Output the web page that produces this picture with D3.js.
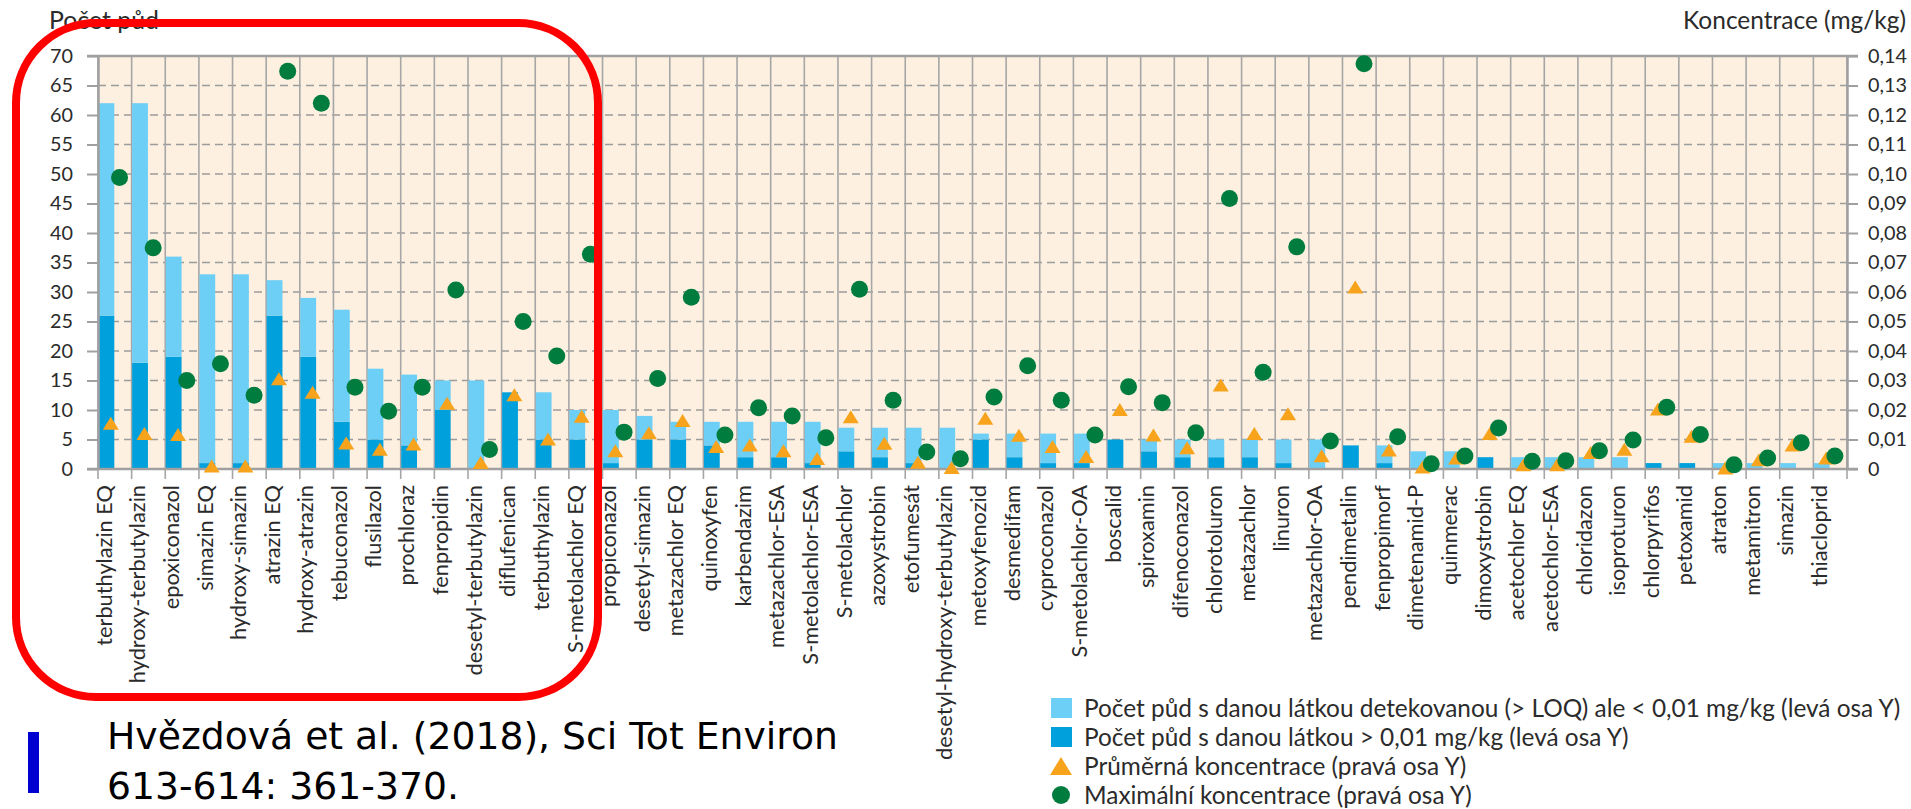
<!DOCTYPE html>
<html>
<head>
<meta charset="utf-8">
<script src="https://cdn.jsdelivr.net/npm/d3@7"></script>
<style>
  body { margin: 0; background: #fff; }
  svg { display: block; }
</style>
</head>
<body>
<div id="chart"></div>
<script>
// látky (osa X)
var latky = ['terbuthylazin EQ', 'hydroxy-terbutylazin', 'epoxiconazol', 'simazin EQ', 'hydroxy-simazin',
    'atrazin EQ', 'hydroxy-atrazin', 'tebuconazol', 'flusilazol', 'prochloraz', 'fenpropidin',
    'desetyl-terbutylazin', 'diflufenican', 'terbuthylazin', 'S-metolachlor EQ', 'propiconazol',
    'desetyl-simazin', 'metazachlor EQ', 'quinoxyfen', 'karbendazim', 'metazachlor-ESA',
    'S-metolachlor-ESA', 'S-metolachlor', 'azoxystrobin', 'etofumesát', 'desetyl-hydroxy-terbutylazin',
    'metoxyfenozid', 'desmedifam', 'cyproconazol', 'S-metolachlor-OA', 'boscalid', 'spiroxamin',
    'difenoconazol', 'chlorotoluron', 'metazachlor', 'linuron', 'metazachlor-OA', 'pendimetalin',
    'fenpropimorf', 'dimetenamid-P', 'quinmerac', 'dimoxystrobin', 'acetochlor EQ', 'acetochlor-ESA',
    'chloridazon', 'isoproturon', 'chlorpyrifos', 'petoxamid', 'atraton', 'metamitron', 'simazin',
    'thiacloprid']

// počet půd > LOQ ale < 0,01 mg/kg (světle modrá)
var pocetPod001 = [36, 44, 17, 32, 32, 6, 10, 19, 12, 12, 5, 15, 0, 8, 5, 9, 4, 3, 4, 6, 6, 7, 4, 5, 6, 7,
    1, 4, 5, 5, 0, 2, 3, 3, 3, 4, 5, 0, 3, 3, 3, 0, 2, 2, 2, 2, 0, 0, 1, 1, 1, 1]

// počet půd > 0,01 mg/kg (tmavě modrá)
var pocetNad001 = [26, 18, 19, 1, 1, 26, 19, 8, 5, 4, 10, 0, 13, 5, 5, 1, 5, 5, 4, 2, 2, 1, 3, 2, 1, 0,
    5, 2, 1, 1, 5, 3, 2, 2, 2, 1, 0, 4, 1, 0, 0, 2, 0, 0, 0, 0, 1, 1, 0, 0, 0, 0]

// průměrná koncentrace mg/kg (trojúhelníky)
var prumernaKonc = [0.0155, 0.012, 0.0117, 0.001, 0.001, 0.0306, 0.026, 0.0088, 0.0067, 0.0085, 0.0223,
    0.0022, 0.0252, 0.0102, 0.0179, 0.0062, 0.0123, 0.0164, 0.0076, 0.0081, 0.0062, 0.0036, 0.0177,
    0.0087, 0.0023, 0.0005, 0.0172, 0.0114, 0.0076, 0.0042, 0.0202, 0.0115, 0.0072, 0.0285, 0.012,
    0.0187, 0.0045, 0.0617, 0.0064, 0.0007, 0.0037, 0.012, 0.0014, 0.0014, 0.0056, 0.0067, 0.0203,
    0.0111, 0.0003, 0.0031, 0.0081, 0.0037]

// maximální koncentrace mg/kg (kolečka)
var maxKonc = [0.0988, 0.075, 0.030, 0.0357, 0.025, 0.1348, 0.124, 0.0277, 0.0196, 0.0277, 0.0607,
    0.0066, 0.050, 0.0383, 0.0728, 0.0125, 0.0307, 0.0582, 0.0115, 0.0208, 0.018, 0.0106, 0.0609,
    0.0233, 0.0058, 0.0035, 0.0244, 0.035, 0.0233, 0.0115, 0.0279, 0.0225, 0.0123, 0.0917, 0.0328,
    0.0753, 0.0095, 0.1374, 0.0109, 0.0018, 0.0044, 0.0139, 0.0026, 0.0028, 0.0062, 0.0098, 0.0209,
    0.0117, 0.0014, 0.0037, 0.0089, 0.0044]

var leftTicks = [0, 5, 10, 15, 20, 25, 30, 35, 40, 45, 50, 55, 60, 65, 70]
var rightTicks = [0, 0.01, 0.02, 0.03, 0.04, 0.05, 0.06, 0.07, 0.08, 0.09, 0.10, 0.11, 0.12, 0.13, 0.14]

var legendLabels = [
    'Počet půd s danou látkou detekovanou (> LOQ) ale < 0,01 mg/kg (levá osa Y)',
    'Počet půd s danou látkou > 0,01 mg/kg (levá osa Y)',
    'Průměrná koncentrace (pravá osa Y)',
    'Maximální koncentrace (pravá osa Y)'
]

var svgWidth = 1911;
var svgHeight = 809;

var margin = {
    left: 98,
    top: 56,
    right: 64,
    bottom: 340
}

var width = svgWidth - margin.left - margin.right;
var height = 469 - margin.top;

var font = 'Lato, "Noto Sans", sans-serif';
var textColor = '#2b2b2b';
var axisColor = '#a0a0a0';

var svg = d3.select('#chart').append('svg')
    .attr('width', svgWidth)
    .attr('height', svgHeight)
    .style('font-family', font)

var chartArea = svg.append('g')
    .attr('transform', `translate(${margin.left},${margin.top})`)

// scales
var xScale = d3.scaleBand()
    .domain(latky)
    .range([0, width])

var bw = xScale.bandwidth();

var yLeft = d3.scaleLinear()
    .domain([0, 70])
    .range([height, 0])

var yRight = d3.scaleLinear()
    .domain([0, 0.14])
    .range([height, 0])

// fit a font size so that the text gets the wanted width
function fitSize(text, base, target, family) {
    var t = svg.append('text').style('font-size', base + 'px').text(text);
    if (family) t.style('font-family', family);
    var w = t.node().getComputedTextLength();
    t.remove();
    return base * target / w;
}

// background
chartArea.append('rect')
    .attr('width', width)
    .attr('height', height)
    .attr('fill', '#fdf0e1')

// horizontal dashed grid
chartArea.selectAll('.hgrid')
    .data(leftTicks.filter(t => t > 0 && t < 70))
    .enter()
    .append('line')
    .attr('x1', 0)
    .attr('x2', width)
    .attr('y1', d => yLeft(d))
    .attr('y2', d => yLeft(d))
    .attr('stroke', '#9c9c9c')
    .attr('stroke-width', 1.5)
    .attr('stroke-dasharray', '8,5')

// vertical grid on category borders, runs down as a tick
var borders = latky.map(d => xScale(d)).concat([width]);

chartArea.selectAll('.vgrid')
    .data(borders)
    .enter()
    .append('line')
    .attr('x1', d => d)
    .attr('x2', d => d)
    .attr('y1', 0)
    .attr('y2', height + 10)
    .attr('stroke', '#a6a6a6')
    .attr('stroke-width', 1.6)

// stacked bars
var rows = latky.map((d, i) => ({ latka: d, nad: pocetNad001[i], pod: pocetPod001[i] }));
var stacked = d3.stack().keys(['nad', 'pod'])(rows);
var barColors = { nad: '#00a0dc', pod: '#6dcff6' };

chartArea.selectAll('.serie')
    .data(stacked)
    .enter()
    .append('g')
    .attr('fill', s => barColors[s.key])
    .selectAll('rect')
    .data(s => s)
    .enter()
    .append('rect')
    .attr('x', d => xScale(d.data.latka) + 0.5)
    .attr('width', bw * 0.47)
    .attr('y', d => yLeft(d[1]))
    .attr('height', d => yLeft(d[0]) - yLeft(d[1]))

// axes lines
chartArea.append('line')
    .attr('x1', -11).attr('x2', width + 11)
    .attr('y1', height).attr('y2', height)
    .attr('stroke', axisColor).attr('stroke-width', 2.5)

chartArea.append('line')
    .attr('x1', -11).attr('x2', width + 11)
    .attr('y1', 0).attr('y2', 0)
    .attr('stroke', axisColor).attr('stroke-width', 2.5)

var tickSize = fitSize('70', 20, 23);

var yAxisLeft = chartArea.append('g')
    .call(d3.axisLeft(yLeft).tickValues(leftTicks).tickSize(11).tickSizeOuter(0).tickPadding(14))

var yAxisRight = chartArea.append('g')
    .attr('transform', `translate(${width},0)`)
    .call(d3.axisRight(yRight).tickValues(rightTicks).tickSize(11).tickSizeOuter(0).tickPadding(10)
        .tickFormat(d => d === 0 ? '0' : d3.format('.2f')(d).replace('.', ',')))

chartArea.selectAll('.domain')
    .attr('stroke', axisColor)
    .attr('stroke-width', 2.5)

chartArea.selectAll('.tick line')
    .attr('stroke', axisColor)
    .attr('stroke-width', 2)

chartArea.selectAll('.tick text')
    .attr('fill', textColor)
    .style('font-family', font)
    .style('font-size', tickSize + 'px')

// category labels
var labelSize = fitSize('desetyl-hydroxy-terbutylazin', 20, 275);

chartArea.selectAll('.x-label')
    .data(latky)
    .enter()
    .append('text')
    .attr('transform', d => `translate(${xScale(d) + 6},${height + 16}) rotate(-90)`)
    .attr('text-anchor', 'end')
    .attr('dy', '0.35em')
    .attr('fill', textColor)
    .style('font-size', labelSize + 'px')
    .text(d => d)

// markers: triangles first, circles over them
var triW = 16;
var triH = 13;

chartArea.selectAll('.avg')
    .data(prumernaKonc)
    .enter()
    .append('path')
    .attr('d', `M0,${-triH / 2}L${triW / 2},${triH / 2}L${-triW / 2},${triH / 2}Z`)
    .attr('transform', (d, i) => `translate(${xScale(latky[i]) + bw * 0.38},${yRight(d)})`)
    .attr('fill', '#f7a31c')

chartArea.selectAll('.max')
    .data(maxKonc)
    .enter()
    .append('circle')
    .attr('cx', (d, i) => xScale(latky[i]) + bw * 0.64)
    .attr('cy', d => yRight(d))
    .attr('r', 8.5)
    .attr('fill', '#007c3e')

// axis titles
svg.append('text')
    .attr('x', 49)
    .attr('y', 29)
    .attr('fill', textColor)
    .style('font-size', fitSize('Počet půd', 21, 110) + 'px')
    .text('Počet půd')

svg.append('text')
    .attr('x', 1906)
    .attr('y', 29)
    .attr('text-anchor', 'end')
    .attr('fill', textColor)
    .style('font-size', fitSize('Koncentrace (mg/kg)', 21, 223) + 'px')
    .text('Koncentrace (mg/kg)')

// legend
var legendSize = fitSize(legendLabels[0], 22, 817);

var legend = svg.append('g')
    .attr('transform', 'translate(1061,708)')

var legendRows = legend.selectAll('.legend-row')
    .data(legendLabels)
    .enter()
    .append('g')
    .attr('transform', (d, i) => `translate(0,${i * 29})`)

legendRows.filter((d, i) => i < 2)
    .append('rect')
    .attr('x', -10).attr('y', -10)
    .attr('width', 21).attr('height', 20)
    .attr('fill', (d, i) => i === 0 ? barColors.pod : barColors.nad)

legendRows.filter((d, i) => i === 2)
    .append('path')
    .attr('d', 'M0,-9L11,9L-11,9Z')
    .attr('fill', '#f7a31c')

legendRows.filter((d, i) => i === 3)
    .append('circle')
    .attr('r', 9)
    .attr('fill', '#007c3e')

legendRows.append('text')
    .attr('x', 23)
    .attr('dy', '0.36em')
    .attr('fill', textColor)
    .style('font-size', legendSize + 'px')
    .text(d => d)

// citation
var citeFont = '"DejaVu Sans", sans-serif';
var citeText = ['Hvězdová et al. (2018), Sci Tot Environ', '613-614: 361-370.'];
var citeSize = fitSize(citeText[0], 36, 731, citeFont);

svg.append('rect')
    .attr('x', 28).attr('y', 732)
    .attr('width', 11).attr('height', 61)
    .attr('fill', '#0000d0')

var cite = svg.append('text')
    .attr('fill', '#000')
    .style('font-family', citeFont)
    .style('font-size', citeSize + 'px')

cite.selectAll('tspan')
    .data(citeText)
    .enter()
    .append('tspan')
    .attr('x', 107)
    .attr('y', (d, i) => 749 + i * 50)
    .text(d => d)

// red highlight box
svg.append('rect')
    .attr('x', 16).attr('y', 23)
    .attr('width', 582).attr('height', 674)
    .attr('rx', 80).attr('ry', 80)
    .attr('fill', 'none')
    .attr('stroke', '#ff0000')
    .attr('stroke-width', 8)
</script>
</body>
</html>
